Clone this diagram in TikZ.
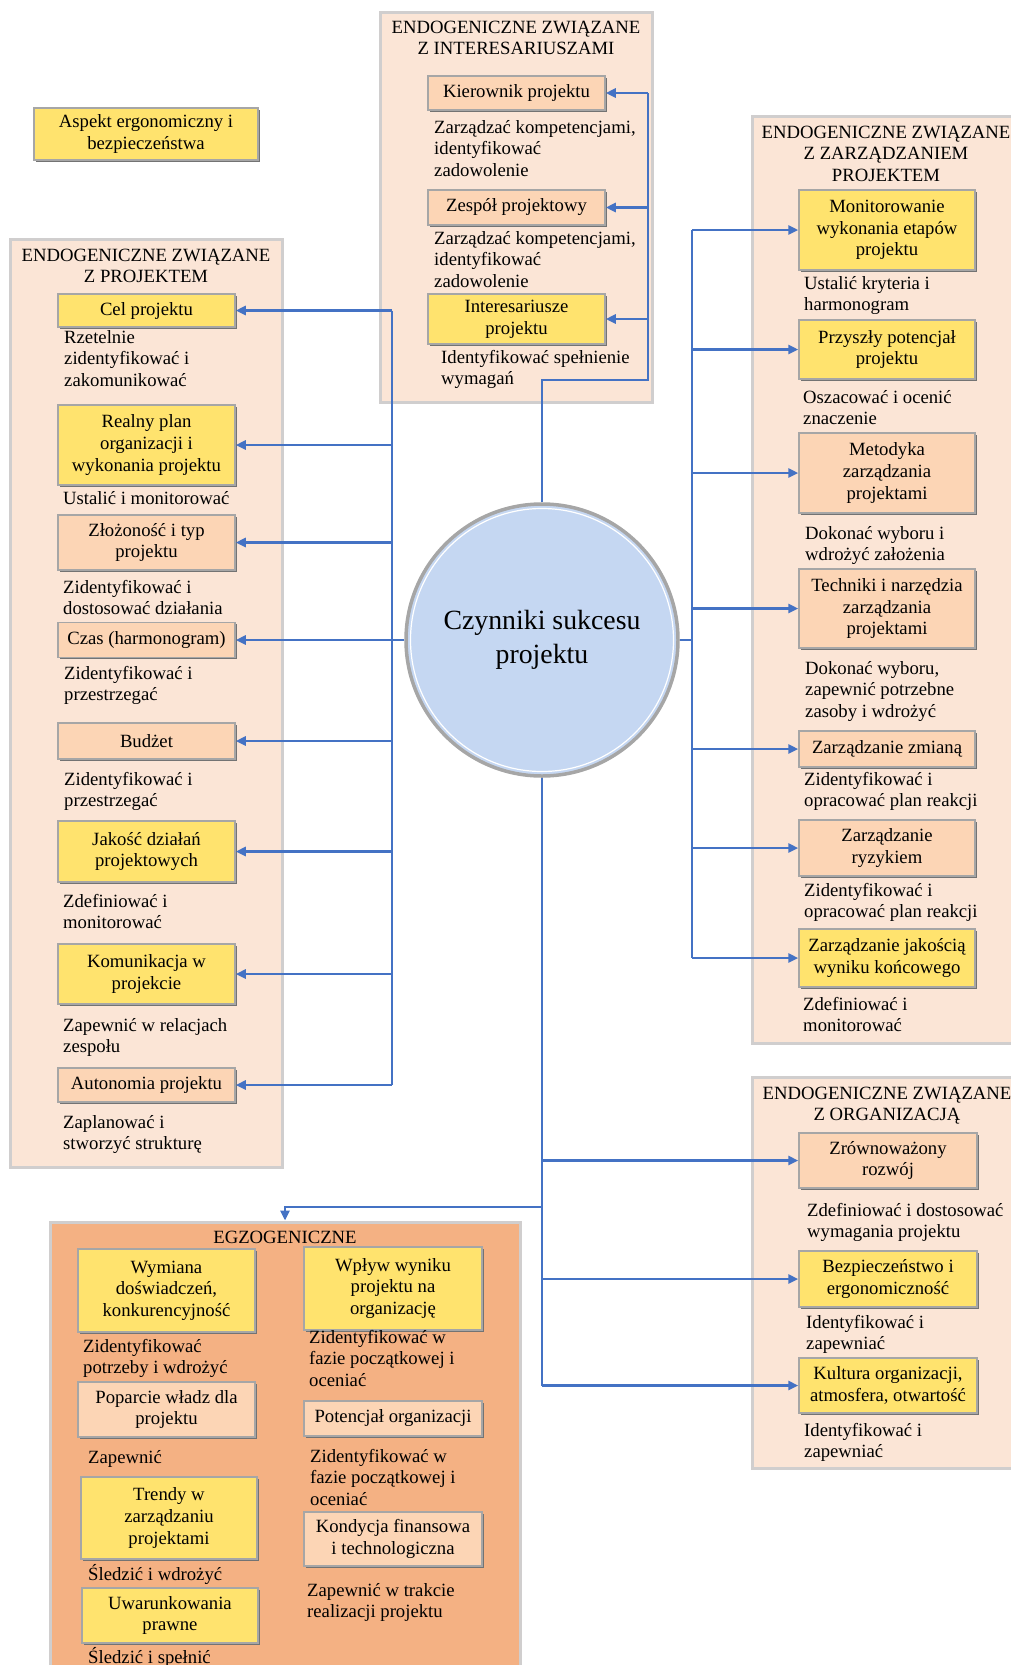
\documentclass[tikz,border=0pt]{standalone}
\usepackage{fontspec}
\setmainfont{Liberation Serif}
\usetikzlibrary{arrows.meta,shadows}

\definecolor{boxyellow}{HTML}{FFE36E}
\definecolor{boxpeach}{HTML}{FCD5B5}
\definecolor{panelfill}{HTML}{FBE5D6}
\definecolor{exofill}{HTML}{F4B183}
\definecolor{panelline}{HTML}{D0CECE}
\definecolor{linkblue}{HTML}{4472C4}
\definecolor{hubfill}{HTML}{C5D7F2}
\definecolor{boxedge}{HTML}{A6A6A6}

\begin{document}
\begin{tikzpicture}[x=1pt,y=-1pt,
  every node/.style={font=\fontsize{18.7}{21.6}\selectfont},
  panel/.style={rectangle, draw=panelline, line width=3pt, fill=panelfill, inner sep=0pt},
  exopanel/.style={panel, fill=exofill},
  factor/.style={rectangle, draw=boxedge, line width=1.5pt, inner sep=2pt, align=center,
    general shadow={fill=black!55, shadow xshift=1.6pt, shadow yshift=-1.8pt}},
  ybox/.style={factor, fill=boxyellow},
  pbox/.style={factor, fill=boxpeach},
  % notes and headings are placed by the baseline of their last line
  note/.style={anchor=base west, align=left, inner sep=0pt},
  heading/.style={anchor=base, align=center, inner sep=0pt},
  conn/.style={draw=linkblue, line width=2.6pt},
  arr/.style={conn, -{Triangle[length=10pt,width=9pt]}},
  hub/.style={circle, fill=hubfill, draw=boxedge, line width=3.5pt, minimum size=272pt,
    align=center, font=\fontsize{27.8}{34}\selectfont}
]
\useasboundingbox (0,0) rectangle (1010,1665);

% ---------- group panels ----------
\node[panel, minimum width=272pt, minimum height=390pt] (pI) at (516,207) {};
\node[panel, minimum width=272pt, minimum height=928pt] (pP) at (146,703) {};
\node[panel, minimum width=268pt, minimum height=927pt] (pM) at (886,579.5) {};
\node[panel, minimum width=268pt, minimum height=391pt] (pO) at (886,1272.5) {};
\node[exopanel, minimum width=470pt, minimum height=468pt] (pE) at (285,1456) {};

% ---------- panel headings ----------
\node[heading] (hI) at (516,54.6) {ENDOGENICZNE ZWIĄZANE\\Z INTERESARIUSZAMI};
\node[heading] (hP) at (146,282.6) {ENDOGENICZNE ZWIĄZANE\\Z PROJEKTEM};
\node[heading] (hM) at (886,181.2) {ENDOGENICZNE ZWIĄZANE\\Z ZARZĄDZANIEM\\PROJEKTEM};
\node[heading] (hO) at (887,1120.6) {ENDOGENICZNE ZWIĄZANE\\Z ORGANIZACJĄ};
\node[heading] (hE) at (285,1243) {EGZOGENICZNE};

% ---------- bus points ----------
\coordinate (busL) at (392,640);
\coordinate (busR) at (692,640);
\coordinate (busI) at (648,380);
\coordinate (egz) at (285,1207);

% ---------- factor boxes: stakeholders ----------
\node[pbox, minimum width=177pt, minimum height=34pt] (kier) at (516.5,93) {Kierownik projektu};
\node[pbox, minimum width=177pt, minimum height=35pt] (zesp) at (516.5,207.5) {Zespół projektowy};
\node[ybox, minimum width=177pt, minimum height=50pt] (inter) at (516.5,319) {Interesariusze\\projektu};

% ---------- factor boxes: project ----------
\node[ybox, minimum width=177pt, minimum height=33pt] (cel) at (146.5,310.5) {Cel projektu};
\node[ybox, minimum width=177pt, minimum height=80pt] (plan) at (146.5,445) {Realny plan\\organizacji i\\wykonania projektu};
\node[pbox, minimum width=177pt, minimum height=55pt] (zloz) at (146.5,542.5) {Złożoność i typ\\projektu};
\node[pbox, minimum width=177pt, minimum height=35pt] (czas) at (146.5,640) {Czas (harmonogram)};
\node[pbox, minimum width=177pt, minimum height=36pt] (budz) at (146.5,741) {Budżet};
\node[ybox, minimum width=177pt, minimum height=61pt] (jak) at (146.5,851.5) {Jakość działań\\projektowych};
\node[ybox, minimum width=177pt, minimum height=60pt] (kom) at (146.5,974) {Komunikacja w\\projekcie};
\node[pbox, minimum width=177pt, minimum height=34pt] (aut) at (146.5,1085) {Autonomia projektu};

% ---------- factor boxes: project management ----------
\node[ybox, minimum width=176pt, minimum height=80pt] (mon) at (887,230) {Monitorowanie\\wykonania etapów\\projektu};
\node[ybox, minimum width=176pt, minimum height=59pt] (przy) at (887,349.5) {Przyszły potencjał\\projektu};
\node[pbox, minimum width=176pt, minimum height=80pt] (met) at (887,473) {Metodyka\\zarządzania\\projektami};
\node[pbox, minimum width=176pt, minimum height=79pt] (tech) at (887,608.5) {Techniki i narzędzia\\zarządzania\\projektami};
\node[pbox, minimum width=176pt, minimum height=36pt] (zmi) at (887,749) {Zarządzanie zmianą};
\node[pbox, minimum width=176pt, minimum height=56pt] (ryz) at (887,848) {Zarządzanie\\ryzykiem};
\node[ybox, minimum width=176pt, minimum height=58pt] (jakR) at (887,958) {Zarządzanie jakością\\wyniku końcowego};

% ---------- factor boxes: organisation ----------
\node[pbox, minimum width=178pt, minimum height=55pt] (zrow) at (888,1160.5) {Zrównoważony\\rozwój};
\node[ybox, minimum width=178pt, minimum height=56pt] (bezp) at (888,1279) {Bezpieczeństwo i\\ergonomiczność};
\node[ybox, minimum width=178pt, minimum height=55pt] (kult) at (888,1385.5) {Kultura organizacji,\\atmosfera, otwartość};

% ---------- factor boxes: exogenous ----------
\node[ybox, minimum width=177pt, minimum height=83pt] (wym) at (166.5,1290.5) {Wymiana\\doświadczeń,\\konkurencyjność};
\node[pbox, minimum width=177pt, minimum height=55pt] (pop) at (166.5,1409.5) {Poparcie władz dla\\projektu};
\node[ybox, minimum width=176pt, minimum height=82pt] (tren) at (169,1518) {Trendy w\\zarządzaniu\\projektami};
\node[ybox, minimum width=176pt, minimum height=55pt] (uwar) at (170,1615.5) {Uwarunkowania\\prawne};
\node[ybox, minimum width=178pt, minimum height=83pt] (wpl) at (393,1288.5) {Wpływ wyniku\\projektu na\\organizację};
\node[pbox, minimum width=178pt, minimum height=35pt] (pot) at (393,1418.5) {Potencjał organizacji};
\node[pbox, minimum width=178pt, minimum height=54pt] (kond) at (393,1539) {Kondycja finansowa\\i technologiczna};

% ---------- stand-alone box ----------
\node[ybox, minimum width=224pt, minimum height=52pt] (asp) at (146,134) {Aspekt ergonomiczny i\\bezpieczeństwa};

% ---------- notes under the boxes ----------
\node[note] (nkier) at (434,176.2) {Zarządzać kompetencjami,\\identyfikować\\zadowolenie};
\node[note] (nzesp) at (434,287.2) {Zarządzać kompetencjami,\\identyfikować\\zadowolenie};
\node[note] (ninter) at (441,384.6) {Identyfikować spełnienie\\wymagań};

\node[note] (ncel) at (64,386.2) {Rzetelnie\\zidentyfikować i\\zakomunikować};
\node[note] (nplan) at (63,504) {Ustalić i monitorować};
\node[note] (nzloz) at (63,614.6) {Zidentyfikować i\\dostosować działania};
\node[note] (nczas) at (64,700.6) {Zidentyfikować i\\przestrzegać};
\node[note] (nbudz) at (64,806.6) {Zidentyfikować i\\przestrzegać};
\node[note] (njak) at (63,928.6) {Zdefiniować i\\monitorować};
\node[note] (nkom) at (63,1052.6) {Zapewnić w relacjach\\zespołu};
\node[note] (naut) at (63,1149.6) {Zaplanować i\\stworzyć strukturę};

\node[note] (nmon) at (804,310.6) {Ustalić kryteria i\\harmonogram};
\node[note] (nprzy) at (803,424.6) {Oszacować i ocenić\\znaczenie};
\node[note] (nmet) at (805,560.6) {Dokonać wyboru i\\wdrożyć założenia};
\node[note] (ntech) at (805,717.2) {Dokonać wyboru,\\zapewnić potrzebne\\zasoby i wdrożyć};
\node[note] (nzmi) at (804,806.6) {Zidentyfikować i\\opracować plan reakcji};
\node[note] (nryz) at (804,917.6) {Zidentyfikować i\\opracować plan reakcji};
\node[note] (njakR) at (803,1031.6) {Zdefiniować i\\monitorować};

\node[note] (nzrow) at (807,1237.6) {Zdefiniować i dostosować\\wymagania projektu};
\node[note] (nbezp) at (806,1349.6) {Identyfikować i\\zapewniać};
\node[note] (nkult) at (804,1457.6) {Identyfikować i\\zapewniać};

\node[note] (nwym) at (83,1373.6) {Zidentyfikować\\potrzeby i wdrożyć};
\node[note] (npop) at (88,1463) {Zapewnić};
\node[note] (ntren) at (88,1580) {Śledzić i wdrożyć};
\node[note] (nuwar) at (88,1663) {Śledzić i spełnić};
\node[note] (nwpl) at (309,1386.2) {Zidentyfikować w\\fazie początkowej i\\oceniać};
\node[note] (npot) at (310,1505.2) {Zidentyfikować w\\fazie początkowej i\\oceniać};
\node[note] (nkond) at (307,1617.6) {Zapewnić w trakcie\\realizacji projektu};

% ---------- central node ----------
\node[hub] (hub) at (542,640) {Czynniki sukcesu\\projektu};

% ---------- connectors ----------
% left bus
\draw[conn] (hub.west) -- (busL);
\draw[conn] (cel.east -| busL) -- (aut.east -| busL);
\foreach \b in {cel,plan,zloz,czas,budz,jak,kom,aut}
  \draw[arr] (\b.east -| busL) -- (\b.east);
% top bus
\draw[conn] (hub.north) |- (busI) -- (kier.east -| busI);
\foreach \b in {kier,zesp,inter}
  \draw[arr] (\b.east -| busI) -- (\b.east);
% right bus
\draw[conn] (hub.east) -- (busR);
\draw[conn] (mon.west -| busR) -- (jakR.west -| busR);
\foreach \b in {mon,przy,met,tech,zmi,ryz,jakR}
  \draw[arr] (\b.west -| busR) -- (\b.west);
% trunk down to organisation and exogenous factors
\draw[conn] (hub.south) -- (kult.west -| hub.south);
\foreach \b in {zrow,bezp,kult}
  \draw[arr] (\b.west -| hub.south) -- (\b.west);
\draw[arr] (egz -| hub.south) -- (egz) -- (pE.north);

% inner highlight of the central ring
\draw[white, line width=1.2pt] (hub.center) circle (131.5pt);
\end{tikzpicture}
\end{document}
